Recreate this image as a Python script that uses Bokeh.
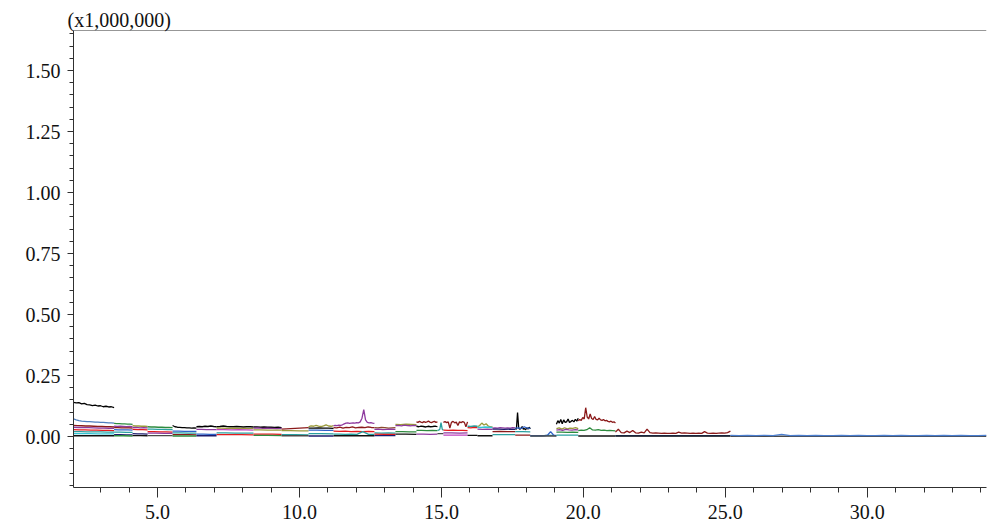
import numpy as np
from bokeh.plotting import figure
from bokeh.models import Range1d, FixedTicker, NumeralTickFormatter, Span
from bokeh.embed import file_html
from bokeh.resources import INLINE

# ---------------- data (intensity in units of 1,000,000) ----------------
x_ticks = [5, 10, 15, 20, 25, 30]
x_tick_labels = ["5.0", "10.0", "15.0", "20.0", "25.0", "30.0"]
y_ticks = [0.0, 0.25, 0.5, 0.75, 1.0, 1.25, 1.5]
y_scale_label = "(x1,000,000)"

# acquisition segments (retention time, min)
seg_start = [2.04, 3.47, 4.12, 4.65, 5.53, 6.37, 7.08, 8.38, 9.37, 10.32, 11.20, 12.64, 13.38,
             14.12, 14.86, 15.07, 15.92, 16.27, 16.80, 17.60, 18.13, 19.05, 19.82, 21.13, 25.18]
seg_end = [3.47, 4.12, 4.65, 5.53, 6.37, 7.08, 8.38, 9.37, 10.32, 11.20, 12.64, 13.38, 14.12,
           14.86, 15.07, 15.92, 16.27, 16.80, 17.60, 18.13, 19.05, 19.82, 21.13, 25.18, 34.20]

s01_black = [0.140, 0.138, 0.139, 0.134, 0.136, 0.131, 0.130, 0.127, 0.129, 0.125, 0.126, 0.122, 0.124, 0.121, 0.122, 0.118]
s01_steel = [0.072, 0.068, 0.065, 0.063, 0.062, 0.061, 0.061, 0.060, 0.059, 0.059, 0.058, 0.058, 0.057, 0.056, 0.056, 0.055]
s01_dred = [0.046, 0.045, 0.044, 0.043, 0.043, 0.042, 0.041, 0.041, 0.040, 0.040, 0.039]
s01_purple = [0.038, 0.037, 0.036, 0.036, 0.035, 0.034, 0.034, 0.033, 0.033]
s01_red = [0.028, 0.027, 0.027, 0.026, 0.026, 0.025, 0.025, 0.024]
s01_teal = [0.020, 0.020, 0.019, 0.019, 0.019, 0.018, 0.018]
s01_cyan = [0.012, 0.012, 0.012, 0.011, 0.011, 0.011]
s01_base = [0.003, 0.003, 0.003, 0.003]

s02_green = [0.054, 0.053, 0.053, 0.052, 0.052, 0.051, 0.051, 0.050]
s02_purple = [0.042, 0.041, 0.042, 0.041, 0.040, 0.041, 0.040]
s02_dred = [0.036, 0.036, 0.035, 0.035, 0.035, 0.034]
s02_blue = [0.028, 0.027, 0.027, 0.027, 0.026]
s02_teal = [0.018, 0.018, 0.017, 0.017]
s02_navy = [0.008, 0.008, 0.007, 0.007]
s02_base = [0.003, 0.003, 0.002]

s03_olive = [0.044, 0.043, 0.043, 0.042, 0.042, 0.041]
s03_purple = [0.036, 0.037, 0.035, 0.036, 0.035]
s03_red = [0.029, 0.028, 0.028, 0.027]
s03_navy = [0.012, 0.011, 0.011, 0.010]
s03_base = [0.004, 0.004, 0.003]

s04_green = [0.040, 0.039, 0.039, 0.038, 0.038, 0.037, 0.037, 0.036]
s04_teal = [0.030, 0.030, 0.029, 0.029, 0.028, 0.028]
s04_red = [0.020, 0.020, 0.019, 0.019, 0.018]
s04_purple = [0.014, 0.014, 0.013, 0.013]
s04_gray = [0.004, 0.004, 0.004]

s05_black = [0.045, 0.040, 0.038, 0.037, 0.036, 0.036, 0.035, 0.035, 0.034, 0.035, 0.034]
s05_blue = [0.022, 0.022, 0.021, 0.021, 0.021]
s05_teal = [0.015, 0.015, 0.014, 0.014]
s05_dred = [0.008, 0.008, 0.008, 0.007]
s05_base = [0.002, 0.002, 0.002]

s06_black = [0.040, 0.041, 0.040, 0.042, 0.041, 0.043, 0.041, 0.040]
s06_purple = [0.029, 0.029, 0.028, 0.028, 0.028]
s06_blue = [0.010, 0.010, 0.009, 0.009]
s06_navy = [0.003, 0.003, 0.003]

s07_black = [0.040, 0.041, 0.043, 0.041, 0.040, 0.040, 0.041, 0.040, 0.039, 0.040, 0.040, 0.039]
s07_olive = [0.034, 0.034, 0.033, 0.034, 0.033, 0.033, 0.032, 0.033]
s07_magenta = [0.028, 0.028, 0.027, 0.028, 0.027, 0.026]
s07_teal = [0.015, 0.015, 0.014, 0.014, 0.014]
s07_red = [0.008, 0.008, 0.008, 0.007]

s08_black = [0.039, 0.039, 0.038, 0.039, 0.038, 0.038, 0.037, 0.038, 0.036]
s08_purple = [0.034, 0.035, 0.033, 0.034, 0.033, 0.032, 0.033]
s08_olive = [0.027, 0.027, 0.026, 0.026, 0.026]
s08_red = [0.010, 0.010, 0.010, 0.009]
s08_green = [0.005, 0.005, 0.004]

s09_dred = [0.030, 0.031, 0.032, 0.033, 0.034, 0.035, 0.036]
s09_olive = [0.024, 0.024, 0.023, 0.023]
s09_teal = [0.008, 0.008, 0.007]
s09_gray = [0.003, 0.003, 0.003]

s10_olive = [0.040, 0.044, 0.042, 0.046, 0.043, 0.041, 0.044, 0.048, 0.043, 0.042, 0.045]
s10_black = [0.034, 0.034, 0.035, 0.034, 0.034, 0.033]
s10_blue = [0.026, 0.026, 0.025, 0.025]
s10_teal = [0.012, 0.012, 0.011]
s10_navy = [0.002, 0.002, 0.002]

s11_purple = [0.045, 0.046, 0.045, 0.047, 0.046, 0.048, 0.052, 0.055, 0.056, 0.054, 0.055, 0.056,
              0.055, 0.057, 0.056, 0.060, 0.075, 0.110, 0.068, 0.058, 0.056, 0.057, 0.055, 0.054]
s11_dred = [0.036, 0.035, 0.038, 0.034, 0.037, 0.036, 0.039, 0.035, 0.037, 0.038, 0.036, 0.039, 0.037, 0.036]
s11_red = [0.022, 0.021, 0.022, 0.020, 0.021, 0.020, 0.021, 0.020]
s11_teal = [0.010, 0.010, 0.009, 0.010, 0.009, 0.020, 0.009, 0.009]
s11_base = [0.003, 0.003, 0.003, 0.003]

s12_brown = [0.036, 0.035, 0.037, 0.036, 0.034, 0.035, 0.036]
s12_purple = [0.029, 0.030, 0.028, 0.029, 0.030, 0.029]
s12_teal = [0.015, 0.014, 0.015, 0.014]
s12_red = [0.010, 0.009, 0.009]
s12_navy = [0.004, 0.004, 0.004]

s13_olive = [0.050, 0.049, 0.051, 0.050, 0.049]
s13_purple = [0.045, 0.046, 0.044, 0.047, 0.045, 0.044, 0.046, 0.045]
s13_green = [0.020, 0.020, 0.019, 0.019]
s13_base = [0.010, 0.010, 0.009]

s14_dred = [0.060, 0.058, 0.062, 0.059, 0.057, 0.061, 0.058, 0.060, 0.063, 0.059, 0.057, 0.060, 0.062, 0.058, 0.060]
s14_black = [0.042, 0.040, 0.043, 0.041, 0.039, 0.042, 0.040, 0.041, 0.043, 0.040]
s14_green = [0.025, 0.025, 0.024, 0.025, 0.024]
s14_purple = [0.010, 0.010, 0.009, 0.010]

s15_teal = [0.025, 0.026, 0.030, 0.057, 0.030, 0.026]
s15_gray = [0.012, 0.012, 0.012]

s16_dred = [0.058, 0.061, 0.057, 0.060, 0.035, 0.058, 0.062, 0.056, 0.059, 0.045, 0.060, 0.057, 0.061, 0.058, 0.040, 0.060]
s16_red = [0.026, 0.025, 0.026, 0.025, 0.025, 0.024]
s16_purple = [0.015, 0.015, 0.014, 0.015]
s16_magenta = [0.006, 0.006, 0.006]

s17_teal = [0.042, 0.041, 0.043, 0.042]
s17_red = [0.036, 0.035, 0.037, 0.036]
s17_base = [0.005, 0.005, 0.005]

s18_olive = [0.040, 0.045, 0.055, 0.047, 0.052, 0.043, 0.040, 0.038]
s18_cyan = [0.038, 0.037, 0.039, 0.038, 0.037]
s18_purple = [0.030, 0.029, 0.030, 0.029]
s18_base = [0.003, 0.003, 0.003]

s19_purple = [0.034, 0.035, 0.034, 0.036, 0.035, 0.034, 0.035, 0.034, 0.036, 0.035]
s19_navy = [0.030, 0.030, 0.029, 0.030, 0.029]
s19_dred = [0.020, 0.021, 0.020, 0.020]
s19_teal = [0.008, 0.008, 0.008]

s20_black = [0.032, 0.030, 0.098, 0.034, 0.030, 0.033, 0.041, 0.030, 0.032, 0.028, 0.036, 0.030, 0.038, 0.031]
s20_blue = [0.034, 0.035, 0.033, 0.040, 0.034, 0.033]
s20_teal = [0.020, 0.020, 0.019]
s20_dred = [0.006, 0.006, 0.006]

s21_teal = [0.004, 0.004, 0.004, 0.004, 0.005, 0.005, 0.004]
s21_blue = [0.003, 0.003, 0.003, 0.003, 0.003, 0.004, 0.006, 0.020, 0.006, 0.004]
s21_gray = [0.002, 0.002, 0.002]

s22_black = [0.050, 0.065, 0.055, 0.070, 0.052, 0.068, 0.058, 0.060, 0.072, 0.057, 0.062, 0.066, 0.060, 0.070, 0.063, 0.075]
s22_olive = [0.032, 0.035, 0.030, 0.036, 0.031, 0.034, 0.033, 0.036, 0.032]
s22_purple = [0.026, 0.028, 0.025, 0.029, 0.027, 0.026, 0.028, 0.027]
s22_green = [0.018, 0.018, 0.017, 0.018, 0.017]
s22_teal = [0.006, 0.006, 0.006]

s23_dred = [0.065, 0.070, 0.066, 0.078, 0.072, 0.118, 0.080, 0.072, 0.092, 0.074, 0.070, 0.082, 0.070,
            0.068, 0.075, 0.068, 0.066, 0.070, 0.064, 0.066, 0.062, 0.060, 0.063, 0.058, 0.060, 0.055]
s23_green = [0.024, 0.026, 0.025, 0.028, 0.036, 0.027, 0.026, 0.028, 0.025, 0.026, 0.024, 0.025, 0.024, 0.023]
s23_base = [0.002, 0.002, 0.002, 0.002]

s24_dred = [0.018, 0.030, 0.016, 0.015, 0.022, 0.016, 0.025, 0.015, 0.014, 0.018, 0.015, 0.030, 0.016, 0.014,
            0.015, 0.014, 0.013, 0.014, 0.013, 0.013, 0.014, 0.013, 0.018, 0.014, 0.015, 0.014, 0.013, 0.014,
            0.013, 0.014, 0.013, 0.020, 0.014, 0.013, 0.014, 0.013, 0.014, 0.015, 0.014, 0.016, 0.022]
s24_blue = [0.004, 0.004, 0.004, 0.004]
s24_base = [0.002, 0.002, 0.002, 0.002, 0.002]

s25_blue = [0.005, 0.004, 0.005, 0.004, 0.005, 0.004, 0.009, 0.004, 0.005, 0.004, 0.005, 0.004, 0.004, 0.005,
            0.004, 0.005, 0.004, 0.004, 0.005, 0.004, 0.005, 0.004, 0.004, 0.005, 0.004, 0.005, 0.004, 0.005,
            0.004, 0.004, 0.005]
s25_gray = [0.001, 0.001, 0.001, 0.001]

# ---------------- styles ----------------
COLORS = {
    "black": "#000000", "steel": "#4f7fbf", "dred": "#8b1a1a", "purple": "#8e3a9e",
    "green": "#2e8b3e", "teal": "#2aa0a0", "olive": "#9a9a3a", "red": "#e41a1c",
    "navy": "#1c1c6e", "blue": "#2f62c8", "magenta": "#c040c0", "gray": "#4a4a4a",
    "cyan": "#35c4d4", "brown": "#8b4a2b", "base": "#101010", "lblue": "#4a7ed0",
}

traces = [
    (0, "black", s01_black), (0, "steel", s01_steel), (0, "dred", s01_dred), (0, "purple", s01_purple),
    (0, "red", s01_red), (0, "teal", s01_teal), (0, "cyan", s01_cyan), (0, "base", s01_base),
    (1, "green", s02_green), (1, "purple", s02_purple), (1, "dred", s02_dred), (1, "blue", s02_blue),
    (1, "teal", s02_teal), (1, "navy", s02_navy), (1, "green", s02_base),
    (2, "olive", s03_olive), (2, "purple", s03_purple), (2, "red", s03_red), (2, "navy", s03_navy), (2, "base", s03_base),
    (3, "green", s04_green), (3, "teal", s04_teal), (3, "red", s04_red), (3, "purple", s04_purple), (3, "gray", s04_gray),
    (4, "black", s05_black), (4, "blue", s05_blue), (4, "teal", s05_teal), (4, "dred", s05_dred), (4, "green", s05_base),
    (5, "black", s06_black), (5, "purple", s06_purple), (5, "blue", s06_blue), (5, "navy", s06_navy),
    (6, "black", s07_black), (6, "olive", s07_olive), (6, "magenta", s07_magenta), (6, "teal", s07_teal), (6, "red", s07_red),
    (7, "black", s08_black), (7, "purple", s08_purple), (7, "olive", s08_olive), (7, "red", s08_red), (7, "green", s08_green),
    (8, "dred", s09_dred), (8, "olive", s09_olive), (8, "teal", s09_teal), (8, "gray", s09_gray),
    (9, "olive", s10_olive), (9, "black", s10_black), (9, "blue", s10_blue), (9, "teal", s10_teal), (9, "navy", s10_navy),
    (10, "purple", s11_purple), (10, "dred", s11_dred), (10, "red", s11_red), (10, "teal", s11_teal), (10, "base", s11_base),
    (11, "brown", s12_brown), (11, "purple", s12_purple), (11, "teal", s12_teal), (11, "red", s12_red), (11, "navy", s12_navy),
    (12, "olive", s13_olive), (12, "purple", s13_purple), (12, "green", s13_green), (12, "base", s13_base),
    (13, "dred", s14_dred), (13, "black", s14_black), (13, "green", s14_green), (13, "purple", s14_purple),
    (14, "teal", s15_teal), (14, "gray", s15_gray),
    (15, "dred", s16_dred), (15, "red", s16_red), (15, "purple", s16_purple), (15, "magenta", s16_magenta),
    (16, "teal", s17_teal), (16, "red", s17_red), (16, "base", s17_base),
    (17, "olive", s18_olive), (17, "cyan", s18_cyan), (17, "purple", s18_purple), (17, "base", s18_base),
    (18, "purple", s19_purple), (18, "navy", s19_navy), (18, "dred", s19_dred), (18, "teal", s19_teal),
    (19, "black", s20_black), (19, "blue", s20_blue), (19, "teal", s20_teal), (19, "dred", s20_dred),
    (20, "teal", s21_teal), (20, "blue", s21_blue), (20, "gray", s21_gray),
    (21, "black", s22_black), (21, "olive", s22_olive), (21, "purple", s22_purple), (21, "green", s22_green), (21, "teal", s22_teal),
    (22, "dred", s23_dred), (22, "green", s23_green), (22, "base", s23_base),
    (23, "dred", s24_dred), (23, "blue", s24_blue), (23, "base", s24_base),
    (24, "gray", s25_gray), (24, "lblue", s25_blue),
]

FONT = "Liberation Serif"
X0, X1 = 2.04, 34.2
Y0, Y1 = -0.209, 1.664

p = figure(width=988, height=526, x_range=Range1d(X0, X1), y_range=Range1d(Y0, Y1),
           output_backend="svg", toolbar_location=None, title=y_scale_label,
           min_border_left=73, min_border_right=2, min_border_top=30, min_border_bottom=39)
p.outline_line_color = None
p.grid.visible = False
p.background_fill_color = "white"
p.border_fill_color = "white"

p.title.text_font = FONT
p.title.text_font_size = "20px"
p.title.text_font_style = "normal"
p.title.text_color = "#111111"
p.title.align = "left"
p.title.offset = -6
p.title.standoff = 0

for seg, ckey, vals in traces:
    t = np.linspace(seg_start[seg], seg_end[seg], len(vals))
    p.line(t, vals, line_color=COLORS[ckey], line_width=1.3)

AX = "#303030"
xa = p.xaxis[0]
xa.ticker = FixedTicker(ticks=x_ticks, minor_ticks=list(range(3, 35)))
xa.major_label_overrides = {v: s for v, s in zip(x_ticks, x_tick_labels)}
xa.major_tick_out = 10
xa.major_tick_in = 0
xa.minor_tick_out = 5
xa.minor_tick_in = 0
xa.major_label_standoff = 7

ya = p.yaxis[0]
ya.ticker = FixedTicker(ticks=y_ticks, minor_ticks=[round(-0.2 + 0.05 * i, 2) for i in range(38)])
ya.formatter = NumeralTickFormatter(format="0.00")
ya.major_tick_out = 6
ya.major_tick_in = 0
ya.minor_tick_out = 4
ya.minor_tick_in = 0
ya.major_label_standoff = 7

for ax in (xa, ya):
    ax.axis_line_color = AX
    ax.major_tick_line_color = AX
    ax.minor_tick_line_color = AX
    ax.major_label_text_font = FONT
    ax.major_label_text_font_size = "20px"
    ax.major_label_text_color = "#111111"

p.add_layout(Span(location=Y1, dimension="width", line_color=AX, line_width=1))

open("out.html", "w").write(file_html(p, INLINE))
